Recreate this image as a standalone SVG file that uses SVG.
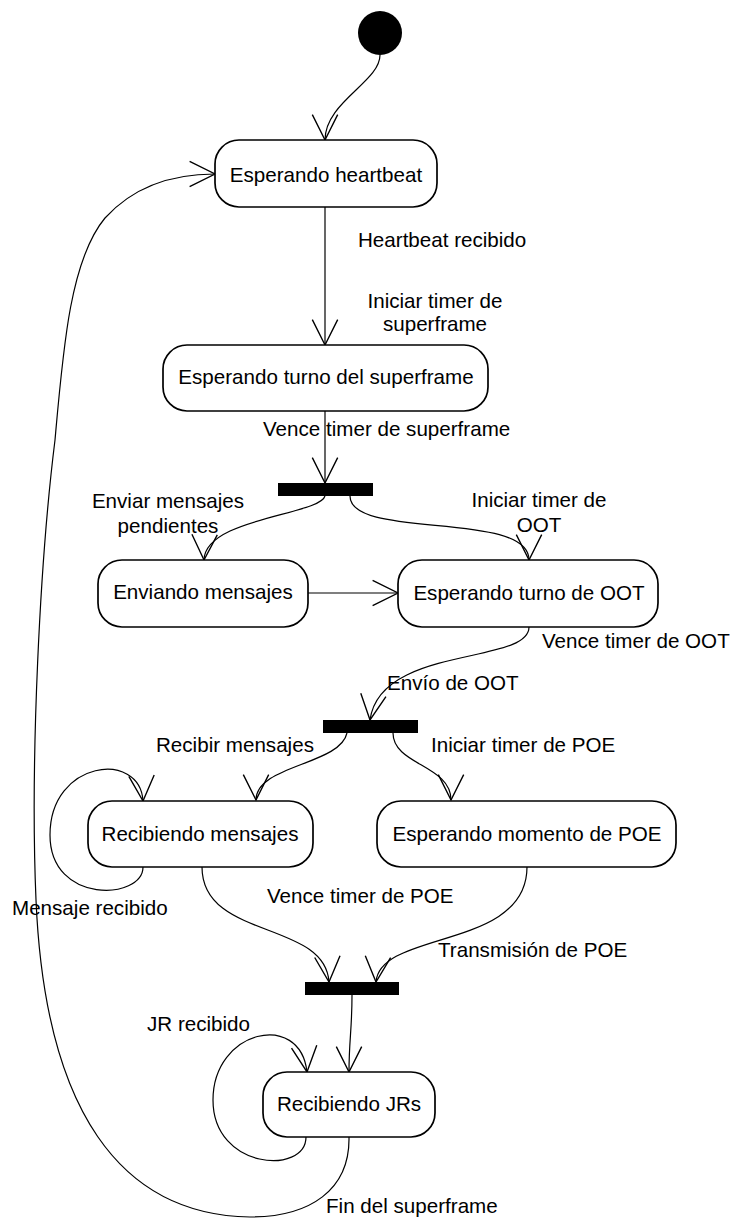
<svg xmlns="http://www.w3.org/2000/svg" width="733" height="1219" viewBox="0 0 733 1219">
  <style>
    .state { fill: #ffffff; stroke: #000000; stroke-width: 1.7; }
    .bar { fill: #000000; stroke: none; }
    .label { font-family: "Liberation Sans", Arial, sans-serif; font-size: 20.6px; fill: #000000; }
    .mid { text-anchor: middle; }
    .edge { fill: none; stroke: #000000; stroke-width: 1.2; marker-end: url(#open); }
  </style>
  <defs>
    <marker id="open" markerUnits="userSpaceOnUse" markerWidth="30" markerHeight="30" viewBox="-24 -13 26 26" refX="0" refY="0" orient="auto">
      <path d="M-22,-11 L0,0 L-22,11" fill="none" stroke="#000000" stroke-width="1.2"/>
    </marker>
  </defs>

  <!-- transitions -->
  <g id="connectors">
    <path class="edge" d="M380,55 C380,82 325,102 325,140"/>
    <path class="edge" d="M325,207 L325,345"/>
    <path class="edge" d="M325,411 L325,483"/>
    <path class="edge" d="M325,496 C320,515 205,518 204,560"/>
    <path class="edge" d="M350,496 C350,540 529,510 529,560"/>
    <path class="edge" d="M308,593 L398,593"/>
    <path class="edge" d="M529,627 C529,665 380,645 370,720"/>
    <path class="edge" d="M347,733 C340,765 256,765 256,800"/>
    <path class="edge" d="M393,733 C393,765 451,765 451,800"/>
    <path class="edge" d="M143,867 C143,900 50,905 50,835 C50,760 140,750 143,801"/>
    <path class="edge" d="M202,867 C202,940 325,920 329,982"/>
    <path class="edge" d="M527,867 C527,950 380,930 376,982"/>
    <path class="edge" d="M352,995 C352,1030 349,1040 349,1072"/>
    <path class="edge" d="M306,1137 C306,1175 213,1170 213,1100 C213,1030 300,1010 307,1072"/>
    <path class="edge" d="M349,1137 C350,1190 310,1217 250,1217 C120,1215 45,1110 36,900 C30,760 40,560 55,440 C63,350 70,260 105,218 C135,185 175,174 215,174"/>

    <text class="label" x="358" y="247">Heartbeat recibido</text>
    <text class="label mid" x="435" y="308">Iniciar timer de</text>
    <text class="label mid" x="435" y="331">superframe</text>
    <text class="label" x="263" y="436">Vence timer de superframe</text>
    <text class="label mid" x="168" y="508">Enviar mensajes</text>
    <text class="label mid" x="168" y="533">pendientes</text>
    <text class="label mid" x="539" y="507">Iniciar timer de</text>
    <text class="label mid" x="539" y="532">OOT</text>
    <text class="label" x="542" y="648">Vence timer de OOT</text>
    <text class="label" x="387" y="690">Envío de OOT</text>
    <text class="label" x="156" y="752">Recibir mensajes</text>
    <text class="label" x="431" y="752">Iniciar timer de POE</text>
    <text class="label" x="267" y="903">Vence timer de POE</text>
    <text class="label" x="12" y="915">Mensaje recibido</text>
    <text class="label" x="438" y="957">Transmisión de POE</text>
    <text class="label" x="147" y="1031">JR recibido</text>
    <text class="label" x="326" y="1213">Fin del superframe</text>
  </g>

  <g id="initial">
    <circle cx="380" cy="33" r="22" fill="#000000"/>
  </g>

  <g id="esperando-heartbeat">
    <rect class="state" x="215" y="140" width="222" height="67" rx="24"/>
    <text class="label mid" x="326" y="182">Esperando heartbeat</text>
  </g>

  <g id="esperando-turno-superframe">
    <rect class="state" x="163" y="345" width="325" height="66" rx="24"/>
    <text class="label mid" x="326" y="384">Esperando turno del superframe</text>
  </g>

  <g id="fork-1">
    <rect class="bar" x="278" y="483" width="95" height="13"/>
  </g>

  <g id="enviando-mensajes">
    <rect class="state" x="98" y="560" width="210" height="67" rx="24"/>
    <text class="label mid" x="203" y="599">Enviando mensajes</text>
  </g>

  <g id="esperando-turno-oot">
    <rect class="state" x="398" y="560" width="260" height="67" rx="24"/>
    <text class="label mid" x="529" y="600">Esperando turno de OOT</text>
  </g>

  <g id="fork-2">
    <rect class="bar" x="323" y="720" width="95" height="13"/>
  </g>

  <g id="recibiendo-mensajes">
    <rect class="state" x="88" y="801" width="225" height="66" rx="24"/>
    <text class="label mid" x="200" y="841">Recibiendo mensajes</text>
  </g>

  <g id="esperando-momento-poe">
    <rect class="state" x="377" y="801" width="299" height="66" rx="24"/>
    <text class="label mid" x="527" y="841">Esperando momento de POE</text>
  </g>

  <g id="join">
    <rect class="bar" x="305" y="982" width="94" height="13"/>
  </g>

  <g id="recibiendo-jrs">
    <rect class="state" x="263" y="1072" width="172" height="65" rx="24"/>
    <text class="label mid" x="349" y="1111">Recibiendo JRs</text>
  </g>
</svg>
